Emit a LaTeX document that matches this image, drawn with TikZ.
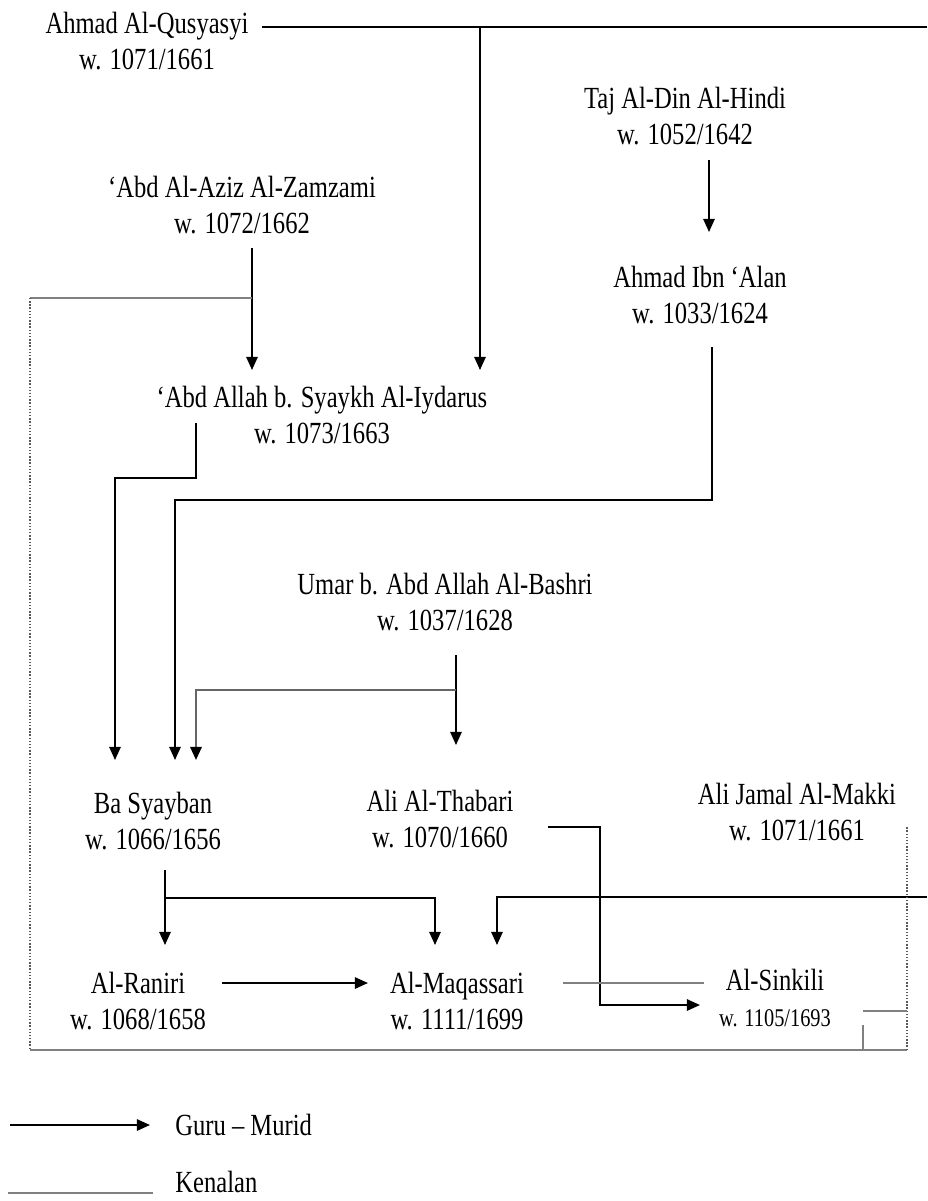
\documentclass[tikz,border=0pt]{standalone}
\usepackage{fontspec}
\setmainfont{Liberation Serif}[FakeStretch=0.8]
\usetikzlibrary{
    arrows.meta,
    positioning,
    calc
}

\begin{document}
\begin{tikzpicture}[x=0.02cm, y=-0.02cm,
    tokoh/.style={align=center, font=\fontsize{17.5}{20.5}\selectfont, inner sep=0pt},
    guru/.style={-{Triangle[length=7.5pt,width=6.5pt,color=black]}, line width=1pt, black},
    kenal/.style={line width=1pt, gray},
    batas/.style={densely dotted, line width=0.8pt, gray!70!black}]

            \useasboundingbox (0,0) rectangle (927,1201);

            % Ulama
            \node[tokoh] (qusyasyi) at (147,41) {Ahmad Al-Qusyasyi\\w. 1071/1661};
            \node[tokoh] (taj) at (685,116) {Taj Al-Din Al-Hindi\\w. 1052/1642};
            \node[tokoh] (ibnalan) at (700,295) {Ahmad Ibn ‘Alan\\w. 1033/1624};
            \node[tokoh] (zamzami) at (242,205) {‘Abd Al-Aziz Al-Zamzami\\w. 1072/1662};
            \node[tokoh] (iydarus) at (322,415) {‘Abd Allah b. Syaykh Al-Iydarus\\w. 1073/1663};
            \node[tokoh] (bashri) at (445,602) {Umar b. Abd Allah Al-Bashri\\w. 1037/1628};
            \node[tokoh] (basyayban) at (153,821) {Ba Syayban\\w. 1066/1656};
            \node[tokoh] (thabari) at (440,819) {Ali Al-Thabari\\w. 1070/1660};
            \node[tokoh] (makki) at (797,812) {Ali Jamal Al-Makki\\w. 1071/1661};
            \node[tokoh] (raniri) at (138,1001) {Al-Raniri\\w. 1068/1658};
            \node[tokoh] (maqassari) at (457,1001) {Al-Maqassari\\w. 1111/1699};
            \node[tokoh] (sinkili) at (775,998) {Al-Sinkili\\{\fontsize{14.5}{16}\selectfont w. 1105/1693}};

            % Ujung dan sudut
            \coordinate (ujungatas) at (927,27);
            \coordinate (ujungmakki) at (927,897);
            \coordinate (sudutkiri) at (30,298);
            \coordinate (sudutbawah) at (30,1050);
            \coordinate (sudutkanan) at (907,1050);
            \coordinate (sudutatas) at (907,827);

            % Guru - Murid
            \draw[line width=1.2pt] ($(qusyasyi)+(115,-14)$) -- (ujungatas);
            \draw[guru] ($(qusyasyi)+(333,-14)$) -- ($(iydarus)+(158,-45)$);
            \draw[guru] ($(taj)+(24,44)$) -- ($(ibnalan)+(9,-63)$);
            \draw[guru] ($(zamzami)+(10,43)$) -- ($(iydarus)+(-70,-45)$);
            \draw[guru] ($(ibnalan)+(12,52)$) |- ($(basyayban)+(22,-321)$) -- ($(basyayban)+(22,-61)$);
            \draw[guru] ($(iydarus)+(-126,8)$) |- ($(basyayban)+(-38,-343)$) -- ($(basyayban)+(-38,-61)$);
            \draw[guru] ($(bashri)+(11,53)$) -- ($(thabari)+(16,-74)$);
            \draw[guru, draw=gray!80!black, line width=1.3pt] ($(bashri)+(11,88)$) -| ($(basyayban)+(43,-61)$);
            \draw[guru] ($(basyayban)+(12,49)$) -- ($(raniri)+(27,-56)$);
            \draw[guru] ($(basyayban)+(12,77)$) -| ($(maqassari)+(-22,-56)$);
            \draw[guru] (ujungmakki) -| ($(maqassari)+(40,-56)$);
            \draw[guru] ($(thabari)+(108,8)$) -- ($(thabari)+(160,8)$) |- ($(sinkili)+(-75,7)$);
            \draw[guru] ($(raniri)+(84,-18)$) -- ($(maqassari)+(-89,-18)$);

            % Kenalan
            \draw[kenal] ($(maqassari)+(106,-18)$) -- ($(sinkili)+(-71,-15)$);
            \draw[kenal] ($(zamzami)+(10,93)$) -- (sudutkiri);
            \draw[batas] (sudutkiri) -- (sudutbawah);
            \draw[kenal] (sudutbawah) -- (sudutkanan);
            \draw[batas] (sudutkanan) -- (sudutatas);
            \draw[kenal] ($(sinkili)+(88,13)$) -- ($(sinkili)+(132,13)$);
            \draw[kenal] ($(sinkili)+(88,27)$) -- ($(sinkili)+(88,52)$);

            % Keterangan
            \node[tokoh, anchor=west] (ketguru) at (175,1125) {Guru – Murid};
            \node[tokoh, anchor=west] (ketkenal) at (175,1182) {Kenalan};
            \draw[guru] ($(ketguru.west)+(-165,0)$) -- ($(ketguru.west)+(-25,0)$);
            \draw[kenal] ($(ketkenal.west)+(-167,11)$) -- ($(ketkenal.west)+(-22,11)$);
\end{tikzpicture}
\end{document}
